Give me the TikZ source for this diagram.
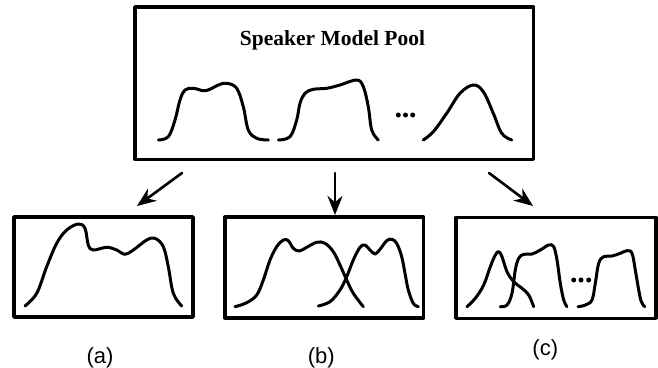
\documentclass[tikz,border=0pt]{standalone}
\usepackage{fontspec}
\setmainfont{Liberation Serif}
\newfontfamily\capfont{Liberation Sans}
\usetikzlibrary{arrows.meta}
\begin{document}
\begin{tikzpicture}[x=1pt,y=-1pt,>={Stealth[length=19pt,width=15pt]}, line join=round, line cap=round,
	frame/.style={draw,line width=3.6pt,inner sep=0pt,outer sep=0pt},
	curve/.style={line width=3pt},
	link/.style={->,line width=2.6pt},
	caption/.style={font=\capfont\fontsize{22}{26}\selectfont,anchor=base}]
	\useasboundingbox (0,0) rectangle (658,367);
	% boxes
	\node[frame,minimum width=398.5pt,minimum height=152.5pt] (pool) at (334.25,83.25) {};
	\node[frame,minimum width=179pt,minimum height=100pt] (boxa) at (103.5,267) {};
	\node[frame,minimum width=198.5pt,minimum height=100.5pt] (boxb) at (324.25,267.5) {};
	\node[frame,minimum width=200pt,minimum height=101pt] (boxc) at (556,267.8) {};
	\node[anchor=base,font=\bfseries\fontsize{21.5}{24}\selectfont] (title) at (332.5,45.7) {Speaker Model Pool};
	% captions
	\node[caption] (laba) at (100,363) {(a)};
	\node[caption] (labb) at (321.3,363) {(b)};
	\node[caption] (labc) at (545.3,355) {(c)};
	% arrows
	\draw[link] ([shift={(47,13.5)}]pool.south west) -- ([shift={(123,-11)}]boxa.north west);
	\draw[link] ([shift={(200,13.5)}]pool.south west) -- ([shift={(110,-2.3)}]boxb.north west);
	\draw[link] ([shift={(354,13.5)}]pool.south west) -- ([shift={(77,-11.3)}]boxc.north west);
	% pool curves
	\draw[curve] plot[smooth,tension=0.6] coordinates {(158.3,140) (168.3,136.7) (175,120) (180,100) (185,90) (193.3,88.3) (203.3,90.7) (210,89.3) (218.3,85) (226.7,83.3) (236.7,88.3) (243.3,106.7) (248.3,130) (256.7,138.3) (268.3,140)};
	\draw[curve] plot[smooth,tension=0.6] coordinates {(278.3,140) (290,136.7) (296.7,120) (300,103.3) (305,93.3) (313.3,89.3) (326.7,88.3) (340,85) (356.7,80) (363.3,86.7) (368.3,106.7) (371.7,130) (378.3,140)};
	\draw[curve] plot[smooth,tension=0.6] coordinates {(423.3,140) (433.3,131.7) (446.7,113.3) (460,93.3) (473.3,85) (483.3,91.7) (493.3,113.3) (501.7,133.3) (511.7,140)};
	\foreach \x in {398.3,405.5,412.7} \fill (\x,115) circle (2.5pt);
	% (a)
	\draw[curve] plot[smooth,tension=0.6] coordinates {(25,306) (36.7,293.3) (46.7,266.7) (56.7,243.3) (66.7,230) (78.3,224) (85,228.3) (88.3,245) (93.3,250) (106.7,247.3) (116.7,250) (125,254.3) (133.3,250) (146.7,240) (155,238.3) (163.3,246.7) (168.3,266.7) (173.3,293.3) (181.7,306)};
	% (b)
	\draw[curve] plot[smooth,tension=0.6] coordinates {(235,306.7) (246.7,302.7) (256.7,295) (263.3,280) (270,260) (276.7,246.7) (283.3,240) (288.3,240.7) (293.3,248.3) (299.3,251) (306.7,247.3) (316.7,242.3) (325,243.3) (333.3,251.7) (340,265) (346.7,280) (353.3,293.3) (363.3,306.7)};
	\draw[curve] plot[smooth,tension=0.6] coordinates {(318.3,306) (330,301.7) (340,290) (346.7,276.7) (353.3,260) (360,247.3) (365,245) (370,250) (375,254) (380,249.3) (386.7,240.7) (391.7,239.3) (396.7,243.3) (401.7,256.7) (405,273.3) (408.3,290) (413.3,303.3) (418.3,306.7)};
	% (c)
	\draw[curve] plot[smooth,tension=0.6] coordinates {(467,306.7) (475.3,298.3) (483.7,285) (490.3,266.7) (495.3,255) (498.7,251.7) (502,256.7) (507,271.7) (513.7,281.7) (522,288.3) (528.7,295) (533.7,306.7)};
	\draw[curve] plot[smooth,tension=0.6] coordinates {(500.3,306.7) (507,305) (512,293.3) (515.3,270) (518.7,258.3) (523.7,254.3) (532,254) (540.3,250) (548.7,245) (553.7,246.7) (557,260) (560.3,283.3) (563.7,300) (567,306.7)};
	\draw[curve] plot[smooth,tension=0.6] coordinates {(578,306.7) (585.3,305) (592,300) (595.3,283.3) (598.7,263.3) (603.7,256.7) (612,256) (620.3,253.3) (627,250.7) (632,253.3) (635.3,270) (638.7,290) (641.3,301.7) (644.7,306.7)};
	\foreach \x in {573.7,581,588.7} \fill (\x,280) circle (2.5pt);
\end{tikzpicture}
\end{document}
